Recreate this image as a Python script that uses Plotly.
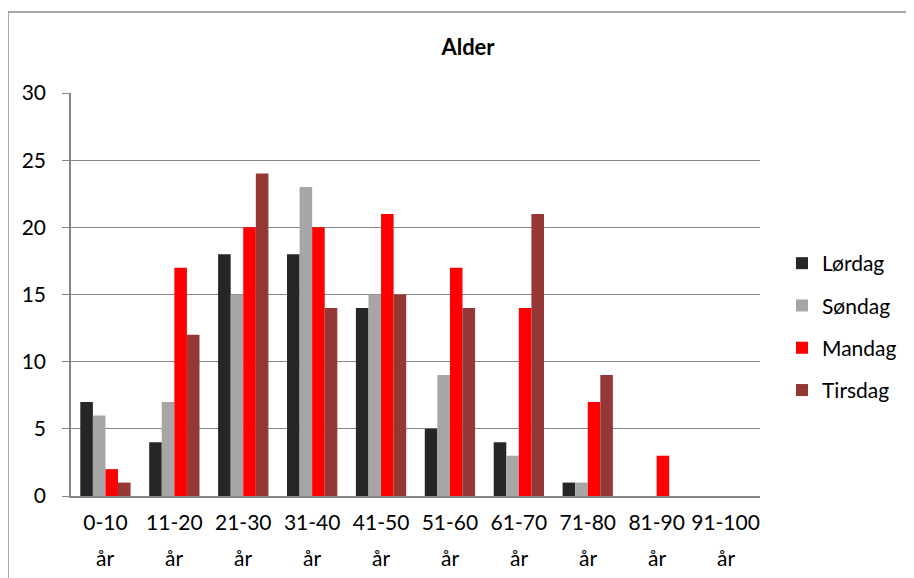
import plotly.graph_objects as go

categories = ["0-10", "11-20", "21-30", "31-40", "41-50", "51-60", "61-70", "71-80", "81-90", "91-100"]
unit_label = "år"
lordag = [7, 4, 18, 18, 14, 5, 4, 1, 0, 0]
sondag = [6, 7, 15, 23, 15, 9, 3, 1, 0, 0]
mandag = [2, 17, 20, 20, 21, 17, 14, 7, 3, 0]
tirsdag = [1, 12, 24, 14, 15, 14, 21, 9, 0, 0]
series_names = ["Lørdag", "Søndag", "Mandag", "Tirsdag"]
series_colors = ["#262626", "#A6A6A6", "#FF0000", "#953735"]
y_ticks = [0, 5, 10, 15, 20, 25, 30]

FONT = "Lato, Open Sans, sans-serif"
W, H = 914, 578
L, R, T, B = 63, W - 752, 85, H - 488
ph = H - T - B
pw = W - L - R

fig = go.Figure()
for name, vals, col in zip(series_names, [lordag, sondag, mandag, tirsdag], series_colors):
    fig.add_trace(go.Bar(x=categories, y=vals, name=name, marker_color=col,
                         marker_line_width=0, legendgroup=name))

# second line of category labels
for c in categories:
    fig.add_annotation(x=c, xref="x", y=(488 - 549) / ph, yref="paper", text=unit_label,
                       showarrow=False, font=dict(family=FONT, size=21, color="#000"),
                       yanchor="middle")

fig.add_shape(type="rect", xref="paper", yref="paper",
              x0=(0 - L) / pw, x1=2, y0=-1, y1=(488 - 4) / ph,
              line=dict(color="#8C8C8C", width=1.5), layer="below")

fig.update_layout(
    width=W, height=H,
    margin=dict(l=L, r=R, t=T, b=B),
    paper_bgcolor="white", plot_bgcolor="white",
    barmode="group", bargap=0.27, bargroupgap=0,
    font=dict(family=FONT, size=21, color="#000"),
    title=dict(text="<b>Alder</b>", xref="container", x=460 / W, xanchor="center",
               yref="container", y=1 - 39 / H, yanchor="middle",
               font=dict(family=FONT, size=22, color="#000")),
    legend=dict(x=(774 - L) / pw, xanchor="left", y=(488 - 235) / ph, yanchor="top",
                tracegroupgap=12, font=dict(family=FONT, size=21, color="#000"),
                bgcolor="rgba(0,0,0,0)"),
    xaxis=dict(showgrid=False, showline=True, linecolor="#868686", linewidth=1.5,
               ticks="", ticklabelstandoff=7, tickfont=dict(family=FONT, size=21)),
    yaxis=dict(range=[0, 30], tickvals=y_ticks, showgrid=True, gridcolor="#868686",
               gridwidth=1.3, showline=True, linecolor="#868686", linewidth=1.5,
               ticks="outside", ticklen=7, tickcolor="#868686", ticklabelstandoff=12,
               zeroline=False, tickfont=dict(family=FONT, size=21)),
)

fig.write_html("out.html")
